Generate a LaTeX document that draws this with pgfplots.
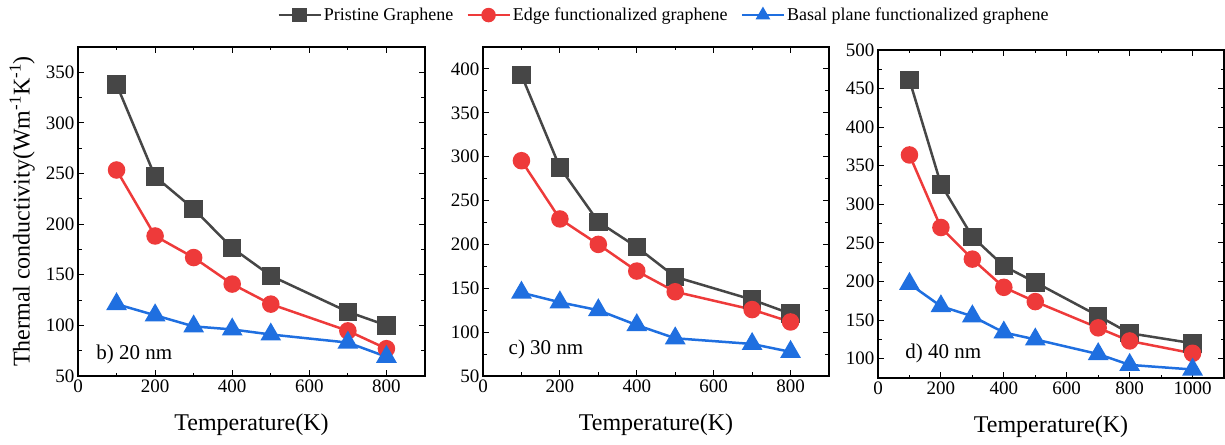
\documentclass[border=0pt]{standalone}
\usepackage{fontspec}
\setmainfont{Liberation Serif}
\usepackage{pgfplots}
\pgfplotsset{compat=1.18}
\definecolor{cgray}{HTML}{464646}
\definecolor{cred}{HTML}{EE3A3A}
\definecolor{cblue}{HTML}{1F6FE0}
\pgfplotsset{
  panel/.style={
    scale only axis, anchor=south west,
    xmin=0, xmax=900,
    xtick={0,200,...,1000},
    tick align=inside,
    minor tick num=1,
    major tick length=6pt, minor tick length=3.5pt,
    axis line style={line width=1.2pt},
    every tick/.style={black, line width=1pt},
    tick label style={font=\fontsize{19}{22}\selectfont},
    /pgf/number format/assume math mode=true,
    /pgf/number format/1000 sep={},
    scaled ticks=false,
    label style={font=\fontsize{24}{28}\selectfont},
    xlabel={Temperature(K)},
    xlabel style={at={(axis description cs:0.5,-0.149)}, anchor=center},
    clip=false,
  },
  s1/.style={cgray, line width=2.5pt, mark=square*, mark size=8pt, mark options={solid}},
  s2/.style={cred, line width=2.5pt, mark=*, mark size=7.5pt, mark options={solid}},
  s3/.style={cblue, line width=2.5pt, mark=triangle*, mark size=9.5pt, mark options={solid}},
}
\begin{document}
\begin{tikzpicture}
\path[use as bounding box] (0pt,0pt) rectangle (1225pt,444pt);
% panel b
\begin{axis}[panel, at={(78pt,68pt)}, width=347pt, height=329pt,
  ymin=50, ymax=375, ytick={50,100,...,350},
  ylabel={Thermal conductivity(Wm\textsuperscript{-1}K\textsuperscript{-1})},
  ylabel style={at={(axis description cs:-0.161,0.5)}, anchor=center}]
\addplot[s1] coordinates {(100,338) (200,247) (300,215) (400,176.5) (500,149) (700,113.4) (800,100)};
\addplot[s2] coordinates {(100,253.5) (200,188.3) (300,167) (400,140.8) (500,121) (700,94.6) (800,77)};
\addplot[s3] coordinates {(100,121) (200,110) (300,99) (400,96) (500,91) (700,83) (800,69)};
\node[anchor=base west, font=\fontsize{21}{24}\selectfont] at (rel axis cs:0.043,0.049) {b) 20 nm};
\end{axis}
% panel c
\begin{axis}[panel, at={(483pt,68pt)}, width=346pt, height=329pt,
  ymin=50, ymax=425, ytick={50,100,...,400},
  legend columns=3,
  legend style={at={(axis description cs:0.523,1.097)}, anchor=center, draw=none,
    font=\fontsize{18}{20}\selectfont, nodes={inner sep=2pt},
    /tikz/every even column/.append style={column sep=11pt}},
  legend image code/.code={\draw[mark repeat=2,mark phase=2,line width=2.5pt,mark size=6pt] plot coordinates {(0pt,0pt) (21pt,0pt) (42pt,0pt)};}]
\addplot[s1] coordinates {(100,393) (200,287.7) (300,225.7) (400,197) (500,163) (700,137) (800,121)};
\addplot[s2] coordinates {(100,295.4) (200,229) (300,200) (400,169.6) (500,146) (700,125.7) (800,111.6)};
\addplot[s3] coordinates {(100,145) (200,134) (300,125) (400,108) (500,93) (700,86.5) (800,77.5)};
\legend{Pristine Graphene, Edge functionalized graphene, Basal plane functionalized graphene}
\node[anchor=base west, font=\fontsize{21}{24}\selectfont] at (rel axis cs:0.064,0.064) {c) 30 nm};
\end{axis}
% panel d
\begin{axis}[panel, at={(878pt,66pt)}, width=346pt, height=328pt,
  xmax=1100,
  ymin=75, ymax=500, ytick={100,150,...,500}]
\addplot[s1] coordinates {(100,461) (200,326) (300,258) (400,220) (500,199) (700,155.5) (800,133) (1000,120)};
\addplot[s2] coordinates {(100,364) (200,270) (300,229) (400,192.5) (500,174) (700,140) (800,123) (1000,107)};
\addplot[s3] coordinates {(100,197) (200,168) (300,155) (400,134) (500,125) (700,106) (800,92) (1000,86)};
\node[anchor=base west, font=\fontsize{21}{24}\selectfont] at (rel axis cs:0.069,0.06) {d) 40 nm};
\end{axis}
\end{tikzpicture}
\end{document}
